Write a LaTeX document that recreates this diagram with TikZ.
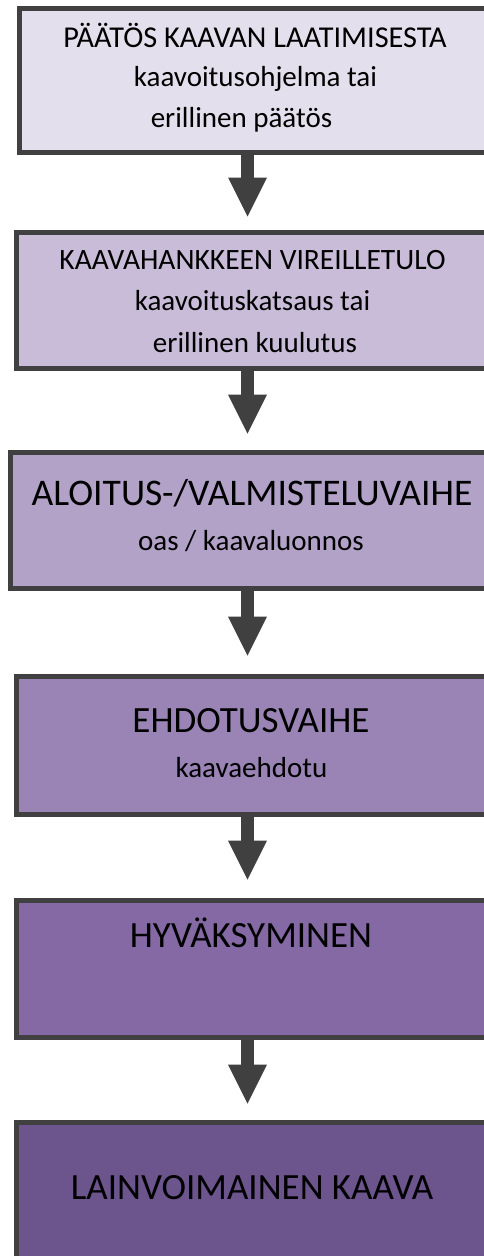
\documentclass[tikz,border=0pt]{standalone}
\usepackage{fontspec}
\setmainfont{Carlito}
\usetikzlibrary{arrows.meta,calc}
\definecolor{bordergray}{HTML}{404040}
\definecolor{cA}{HTML}{E4DFEC}
\definecolor{cB}{HTML}{C9BCD9}
\definecolor{cC}{HTML}{B2A2C8}
\definecolor{cD}{HTML}{9A84B5}
\definecolor{cE}{HTML}{8569A4}
\definecolor{cF}{HTML}{6C548C}
\tikzset{
  stagebox/.style={draw=bordergray, line width=5pt, rectangle, inner sep=0pt, anchor=north west},
  flowarrow/.style={draw=bordergray, line width=12.5pt, -{Triangle[width=39pt,length=39pt,line width=0pt]}},
  smalltxt/.style={anchor=base, inner sep=0pt, font=\fontsize{29}{34}\selectfont},
  bigtxt/.style={anchor=base, inner sep=0pt, font=\fontsize{37}{44}\selectfont}
}
\begin{document}
\begin{tikzpicture}[x=1pt,y=-1pt]
\useasboundingbox (0,0) rectangle (484,1256);
\clip (0,0) rectangle (484,1256);
\fill[white] (0,0) rectangle (484,1256);
\coordinate (ax) at (247.5,0);
% boxes
\node[stagebox, fill=cA, minimum width=473.5pt, minimum height=144pt] (b1) at (16.5,5.5) {};
\node[stagebox, fill=cB, minimum width=476.5pt, minimum height=136pt] (b2) at (13.5,229.5) {};
\node[stagebox, fill=cC, minimum width=482.5pt, minimum height=136pt] (b3) at (7.5,449.5) {};
\node[stagebox, fill=cD, minimum width=476.5pt, minimum height=138pt] (b4) at (13.5,673.5) {};
\node[stagebox, fill=cE, minimum width=476.5pt, minimum height=137pt] (b5) at (13.5,897.5) {};
\node[stagebox, fill=cF, minimum width=476.5pt, minimum height=150pt] (b6) at (13.5,1119.5) {};
% texts
\node[smalltxt, font=\fontsize{30.3}{35}\selectfont] (t1a) at (255,47) {PÄÄTÖS KAAVAN LAATIMISESTA};
\node[smalltxt] (t1b) at (255.5,86) {kaavoitusohjelma tai};
\node[smalltxt] (t1c) at (241.5,127) {erillinen päätös};
\node[smalltxt, font=\fontsize{29.5}{35}\selectfont] (t2a) at (252.5,269) {KAAVAHANKKEEN VIREILLETULO};
\node[smalltxt] (t2b) at (252.5,310) {kaavoituskatsaus tai};
\node[smalltxt] (t2c) at (255,352) {erillinen kuulutus};
\node[bigtxt, font=\fontsize{37.6}{44}\selectfont] (t3a) at (252,505) {ALOITUS-/VALMISTELUVAIHE};
\node[smalltxt] (t3b) at (251,550) {oas / kaavaluonnos};
\node[bigtxt] (t4a) at (251,732) {EHDOTUSVAIHE};
\node[smalltxt] (t4b) at (251.5,777) {kaavaehdotu};
\node[bigtxt] (t5a) at (251,947) {HYVÄKSYMINEN};
\node[bigtxt] (t6a) at (252,1199) {LAINVOIMAINEN KAAVA};
% arrows
\draw[flowarrow, shorten >=13pt] (b1.south -| ax) -- (b2.north -| ax);
\draw[flowarrow, shorten >=16pt] (b2.south -| ax) -- (b3.north -| ax);
\draw[flowarrow, shorten >=18pt] (b3.south -| ax) -- (b4.north -| ax);
\draw[flowarrow, shorten >=18pt] (b4.south -| ax) -- (b5.north -| ax);
\draw[flowarrow, shorten >=16pt] (b5.south -| ax) -- (b6.north -| ax);
\end{tikzpicture}
\end{document}
